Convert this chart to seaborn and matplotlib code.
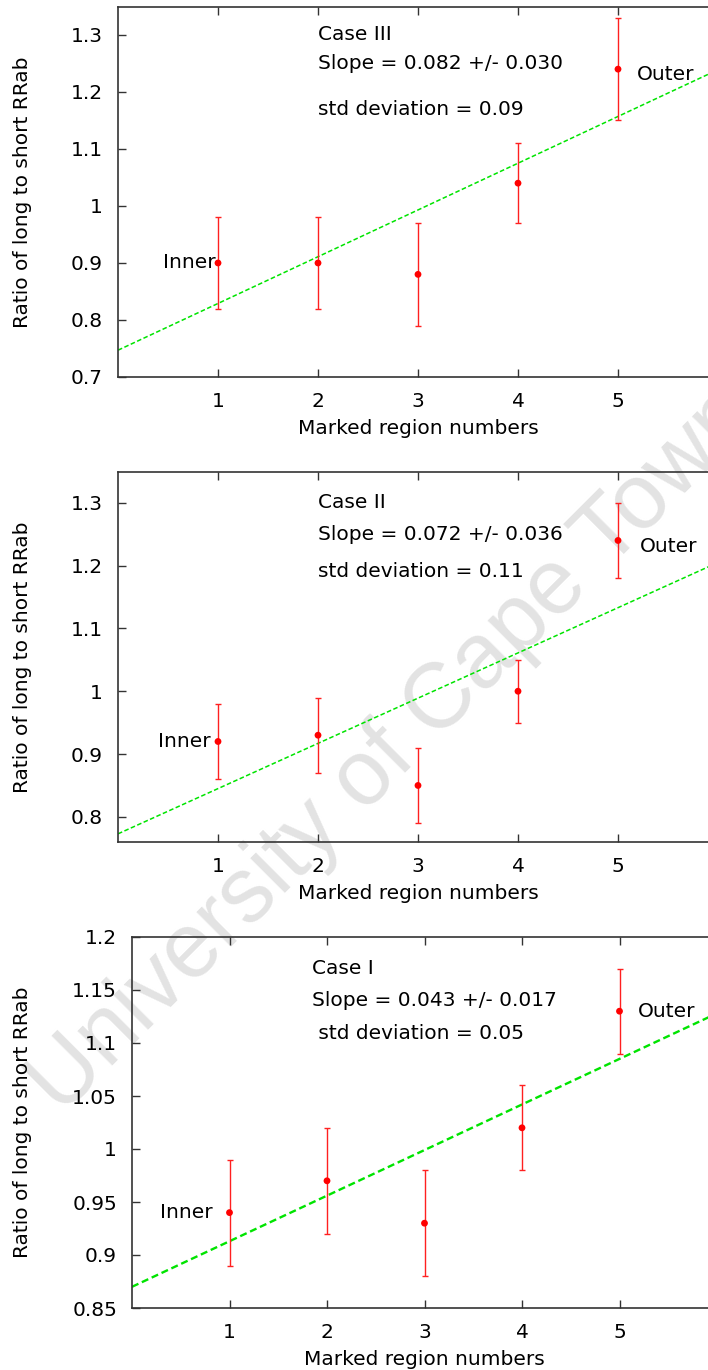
import numpy as np
import pandas as pd
import matplotlib
matplotlib.use("Agg")
import matplotlib.pyplot as plt
import seaborn as sns

# ---------------- data ----------------
regions = [1, 2, 3, 4, 5]

ratio_case3 = [0.90, 0.90, 0.88, 1.04, 1.24]
err_case3 = [0.08, 0.08, 0.09, 0.07, 0.09]
fit_case3 = (0.747, 0.082)   # intercept, slope

ratio_case2 = [0.92, 0.93, 0.85, 1.00, 1.24]
err_case2 = [0.06, 0.06, 0.06, 0.05, 0.06]
fit_case2 = (0.773, 0.072)

ratio_case1 = [0.94, 0.97, 0.93, 1.02, 1.13]
err_case1 = [0.05, 0.05, 0.05, 0.04, 0.04]
fit_case1 = (0.870, 0.043)

yticks_case3 = [0.7, 0.8, 0.9, 1.0, 1.1, 1.2, 1.3]
yticks_case2 = [0.8, 0.9, 1.0, 1.1, 1.2, 1.3]
yticks_case1 = [0.85, 0.9, 0.95, 1.0, 1.05, 1.1, 1.15, 1.2]

text_case3 = ["Case III", "Slope = 0.082 +/- 0.030", "std deviation = 0.09"]
text_case2 = ["Case II", "Slope = 0.072 +/- 0.036", "std deviation = 0.11"]
text_case1 = ["Case I", "Slope = 0.043 +/- 0.017", " std deviation = 0.05"]

xlabel = "Marked region numbers"
ylabel = "Ratio of long to short RRab"
watermark = "University of Cape Town"

# ---------------- style ----------------
sns.set_theme(style="ticks")
plt.rcParams["font.family"] = ["DejaVu Sans"]
FS = 14.5

fig = plt.figure(figsize=(7.08, 13.70), dpi=100)
W, H = 708.0, 1370.0

panels = [
    dict(rect=(118, 7, 600, 370), ratio=ratio_case3, err=err_case3, fit=fit_case3,
         ylim=(0.7, 1.349), yticks=yticks_case3, text=text_case3,
         text_pos=[(2.0, 1.30), (2.0, 1.25), (2.0, 1.17)],
         inner=(0.98, 0.90), outer=(5.19, 1.23), lw=1.1),
    dict(rect=(118, 472, 600, 370), ratio=ratio_case2, err=err_case2, fit=fit_case2,
         ylim=(0.76, 1.349), yticks=yticks_case2, text=text_case2,
         text_pos=[(2.0, 1.30), (2.0, 1.25), (2.0, 1.19)],
         inner=(0.93, 0.92), outer=(5.22, 1.23), lw=1.1),
    dict(rect=(132, 937, 585, 371), ratio=ratio_case1, err=err_case1, fit=fit_case1,
         ylim=(0.85, 1.2), yticks=yticks_case1, text=text_case1,
         text_pos=[(1.85, 1.17), (1.85, 1.14), (1.85, 1.109)],
         inner=(0.83, 0.94), outer=(5.19, 1.13), lw=1.7),
]

for p in panels:
    x0, y0, w, h = p["rect"]
    ax = fig.add_axes([x0 / W, 1 - (y0 + h) / H, w / W, h / H])
    ax.set_facecolor("none")

    df = pd.DataFrame({"region": regions, "ratio": p["ratio"], "err": p["err"]})
    b, m = p["fit"]
    fx = np.array([0.0, 6.0])
    fit_df = pd.DataFrame({"x": fx, "y": b + m * fx})
    sns.lineplot(data=fit_df, x="x", y="y", ax=ax, color="#00e400",
                 linewidth=p["lw"], dashes=False, zorder=2)
    ax.lines[-1].set_dashes([3.0, 1.6])

    ax.errorbar(df["region"], df["ratio"], yerr=df["err"], fmt="none",
                ecolor="#ff2020", elinewidth=1.0, capsize=2.3, capthick=1.0, zorder=3)
    sns.scatterplot(data=df, x="region", y="ratio", ax=ax, color="#ff0000",
                    s=24, edgecolor="none", zorder=4)

    ax.set_xlim(0, 6)
    ax.set_ylim(*p["ylim"])
    ax.set_xticks(regions)
    ax.set_xticklabels([str(r) for r in regions])
    ax.set_yticks(p["yticks"])
    ax.set_yticklabels([f"{t:g}" for t in p["yticks"]])
    ax.tick_params(axis="both", direction="in", length=6, width=1.0,
                   color="#333333", labelsize=FS, labelcolor="black", pad=10.8,
                   top=True, right=True)
    for s in ax.spines.values():
        s.set_color("#333333")
        s.set_linewidth(1.2)

    ax.set_xlabel(xlabel, fontsize=FS, color="black", labelpad=6)
    ax.set_ylabel(ylabel, fontsize=FS, color="black", va="center")
    ax.yaxis.set_label_coords((23 - x0) / w, 0.5)

    for t, (tx, ty) in zip(p["text"], p["text_pos"]):
        ax.text(tx, ty, t, fontsize=FS, ha="left", va="center", color="black", zorder=5)
    ax.text(p["inner"][0], p["inner"][1], "Inner", fontsize=FS, ha="right", va="center",
            color="black", zorder=5)
    ax.text(p["outer"][0], p["outer"][1], "Outer", fontsize=FS, ha="left", va="center",
            color="black", zorder=5)

fig.text(0.556, 0.452, watermark, rotation=45, rotation_mode="anchor",
         fontsize=66, color="#e3e3e3", ha="center", va="center",
         family=["Liberation Sans", "DejaVu Sans"], zorder=-1)

fig.savefig("out.png", dpi=100, facecolor="white")
